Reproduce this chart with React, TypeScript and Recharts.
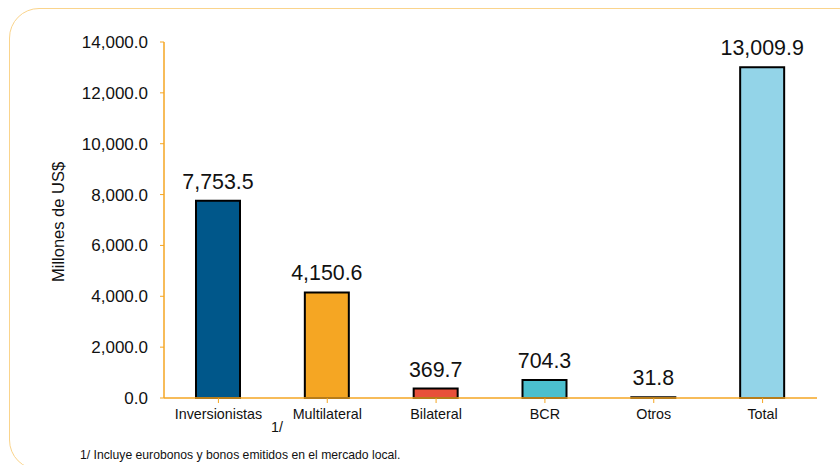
import React from 'react';
import { BarChart, Bar, XAxis, YAxis, Cell, LabelList } from 'recharts';

const categories = ['Inversionistas', 'Multilateral', 'Bilateral', 'BCR', 'Otros', 'Total'];
const values = [7753.5, 4150.6, 369.7, 704.3, 31.8, 13009.9];
const colors = ['#00578A', '#F5A623', '#E8503A', '#4BBFCE', '#7A7A7A', '#93D4E8'];
const yTicks = [0, 2000, 4000, 6000, 8000, 10000, 12000, 14000];

const data = categories.map((name, i) => ({ name, value: values[i] }));

const fmt = (v: number) =>
  v.toLocaleString('en-US', { minimumFractionDigits: 1, maximumFractionDigits: 1 });

const axisColor = '#F5A623';
const font = 'Arial, "Liberation Sans", sans-serif';

const App: React.FC = () => {
  return (
    <div style={{ position: 'absolute', left: 0, top: 0, width: 840, height: 465, overflow: 'hidden', fontFamily: font }}>
      <div
        style={{
          position: 'absolute',
          left: 9,
          top: 8,
          width: 860,
          height: 462,
          border: '1.5px solid #FAD48C',
          borderRadius: 30,
          boxSizing: 'border-box',
        }}
      />
      <BarChart
        width={840}
        height={465}
        data={data}
        margin={{ top: 42, right: 23, bottom: 37, left: 74 }}
        barCategoryGap="30%"
      >
        <YAxis
          width={90}
          domain={[0, 14000]}
          ticks={yTicks}
          tickFormatter={fmt}
          axisLine={{ stroke: axisColor, strokeWidth: 1.5 }}
          tickLine={{ stroke: axisColor }}
          tickSize={4}
          tickMargin={12}
          tick={{ fill: '#111', fontSize: 17, fontFamily: font }}
          interval={0}
          label={{
            value: 'Millones de US$',
            angle: -90,
            position: 'insideLeft',
            dx: -21,
            dy: 62,
            style: { fill: '#111', fontSize: 16.5, fontFamily: font },
          }}
        />
        <XAxis
          dataKey="name"
          height={30}
          axisLine={{ stroke: axisColor, strokeWidth: 1.5 }}
          tickLine={{ stroke: axisColor }}
          tickSize={5}
          tickMargin={6}
          interval={0}
          tick={{ fill: '#111', fontSize: 14.3, fontFamily: font }}
        />
        <Bar dataKey="value" stroke="#000" strokeWidth={2} isAnimationActive={false} barSize={44}>
          {data.map((d, i) => (
            <Cell key={`cell-${i}`} fill={colors[i]} />
          ))}
          <LabelList
            dataKey="value"
            position="top"
            offset={12}
            formatter={(v: number) => fmt(v)}
            style={{ fill: '#111', fontSize: 21.4, fontFamily: font }}
          />
        </Bar>
      </BarChart>
      <div style={{ position: 'absolute', left: 271, top: 419, fontSize: 14.3, color: '#111' }}>1/</div>
      <div style={{ position: 'absolute', left: 80, top: 448, fontSize: 12.2, color: '#111' }}>
        1/ Incluye eurobonos y bonos emitidos en el mercado local.
      </div>
    </div>
  );
};

export default App;
